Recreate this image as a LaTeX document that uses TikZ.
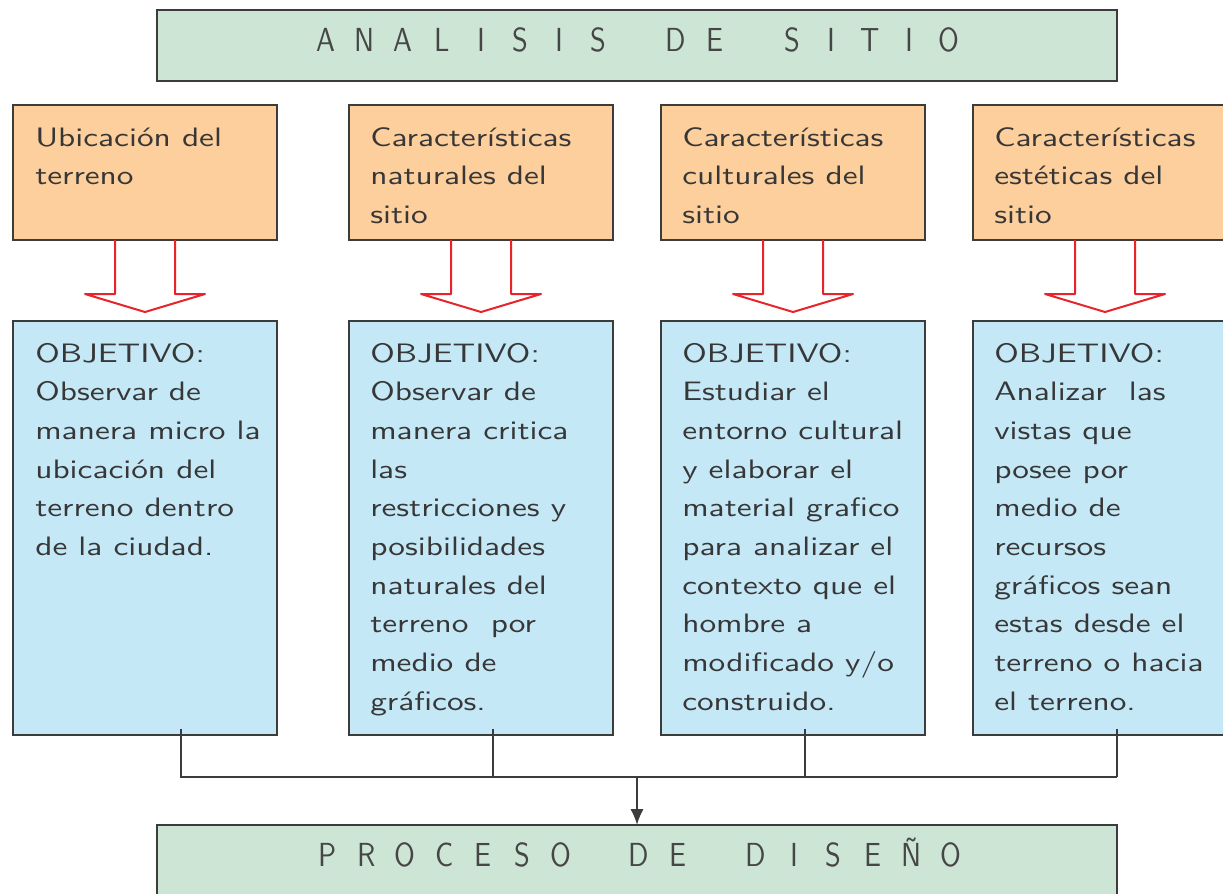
\documentclass[tikz,border=0pt]{standalone}
\usepackage{fontspec}
\usetikzlibrary{arrows.meta}
\newfontfamily\hand{lmsans10-regular.otf}[FakeStretch=1.25]
\newfontfamily\titlef{lmsans10-regular.otf}[FakeStretch=0.85]
\definecolor{boxgreen}{RGB}{204,229,213}
\definecolor{boxorange}{RGB}{253,207,156}
\definecolor{boxblue}{RGB}{197,232,247}
\definecolor{edge}{RGB}{60,60,60}
\definecolor{txt}{RGB}{55,55,55}
\definecolor{ttxt}{RGB}{70,70,70}
\definecolor{arrred}{RGB}{232,36,43}
\newcommand{\tslot}[1]{\makebox[29.2pt][c]{#1}}
\newcommand{\mlines}[1]{\vtop{\baselineskip=29pt\lineskiplimit=-100pt\halign{##\hfil\cr#1\crcr}}}
\tikzset{
  box/.style={draw=edge, line width=1.5pt, inner sep=0pt, outer sep=0pt, anchor=north west, rectangle},
  topbox/.style={box, fill=boxorange, minimum width=198pt, minimum height=101.25pt},
  objbox/.style={box, fill=boxblue, minimum width=198pt, minimum height=310.5pt},
  titlebox/.style={box, fill=boxgreen, minimum width=720pt},
  boxtext/.style={anchor=base west, inner sep=0pt, text=txt, font=\hand\fontsize{20pt}{29pt}\selectfont},
  titletext/.style={anchor=base, inner sep=0pt, text=ttxt, font=\titlef\fontsize{25pt}{30pt}\selectfont},
  redarrow/.style={draw=arrred, line width=1.5pt, line join=round},
  conn/.style={draw=edge, line width=1.5pt},
}
\begin{document}
\begin{tikzpicture}[x=0.75pt, y=-0.75pt]
\useasboundingbox (0,0) rectangle (1223,893);
\clip (0,0) rectangle (1223,893);
% title boxes
\node[titlebox, minimum height=53.25pt] (as) at (157,10) {};
\node[titletext] (ast) at (637,51) {\tslot{A}\tslot{N}\tslot{A}\tslot{L}\tslot{I}\tslot{S}\tslot{I}\tslot{S}\tslot{}\tslot{D}\tslot{E}\tslot{}\tslot{S}\tslot{I}\tslot{T}\tslot{I}\tslot{O}};
\node[titlebox, minimum height=67.5pt] (pd) at (157,825) {};
\node[titletext] (pdt) at (639,866) {\tslot{P}\tslot{R}\tslot{O}\tslot{C}\tslot{E}\tslot{S}\tslot{O}\tslot{}\tslot{D}\tslot{E}\tslot{}\tslot{D}\tslot{I}\tslot{S}\tslot{E}\tslot{Ñ}\tslot{O}};
% orange boxes
\node[topbox] (o1) at (13,105) {};
\node[topbox] (o2) at (349,105) {};
\node[topbox] (o3) at (661,105) {};
\node[topbox] (o4) at (973,105) {};
\node[boxtext] (o1t) at (35,146) {\mlines{Ubicación del\cr terreno}};
\node[boxtext] (o2t) at (370,146) {\mlines{Características\cr naturales del\cr sitio}};
\node[boxtext] (o3t) at (682,146) {\mlines{Características\cr culturales del\cr sitio}};
\node[boxtext] (o4t) at (994,146) {\mlines{Características\cr estéticas del\cr sitio}};
% blue boxes
\node[objbox] (b1) at (13,321) {};
\node[objbox] (b2) at (349,321) {};
\node[objbox] (b3) at (661,321) {};
\node[objbox] (b4) at (973,321) {};
\node[boxtext] (b1t) at (35,362) {\mlines{OBJETIVO:\cr Observar de\cr manera micro la\cr ubicación del\cr terreno dentro\cr de la ciudad.}};
\node[boxtext] (b2t) at (370,362) {\mlines{OBJETIVO:\cr Observar de\cr manera critica\cr las\cr restricciones y\cr posibilidades\cr naturales del\cr terreno\ \ por\cr medio de\cr gráficos.}};
\node[boxtext] (b3t) at (682,362) {\mlines{OBJETIVO:\cr Estudiar el\cr entorno cultural\cr y elaborar el\cr material grafico\cr para analizar el\cr contexto que el\cr hombre a\cr modificado y/o\cr construido.}};
\node[boxtext] (b4t) at (994,362) {\mlines{OBJETIVO:\cr Analizar\ \ las\cr vistas que\cr posee por\cr medio de\cr recursos\cr gráficos sean\cr estas desde el\cr terreno o hacia\cr el terreno.}};
% red hollow arrows
\foreach \o in {o1,o2,o3,o4}{
  \draw[redarrow] (\o.south) ++(-30,0) -- ++(0,54) -- ++(-30,0) -- ++(60,18) -- ++(60,-18) -- ++(-30,0) -- ++(0,-54);
}
% connectors
\coordinate (busL) at (181,777);
\coordinate (busR) at (1117,777);
\coordinate (bus) at (637,777);
\draw[conn] (b1.south west) ++(168,-6) -- (busL) -- (busR);
\draw[conn] (b2.south west) ++(144,-6) -- ++(0,48);
\draw[conn] (b3.south west) ++(144,-6) -- ++(0,48);
\draw[conn] (b4.south west) ++(144,-6) -- (busR);
\draw[conn, -{Latex[length=12pt,width=10pt]}] (bus) -- (pd.north);
\end{tikzpicture}
\end{document}
